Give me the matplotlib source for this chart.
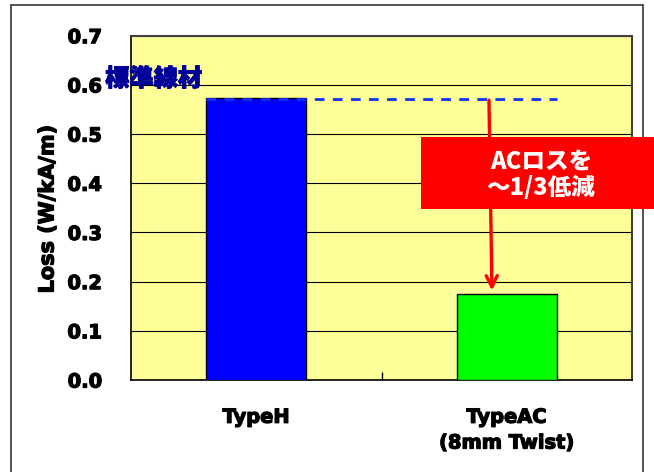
import matplotlib
matplotlib.use("Agg")
import matplotlib.pyplot as plt
import matplotlib.patheffects as pe
from matplotlib.patches import Rectangle
from matplotlib.ticker import FixedLocator

# Data
categories = ["TypeH", "TypeAC\n(8mm Twist)"]
losses = [0.574, 0.174]
bar_colors = ["#0000FF", "#00FF00"]
reference_level = 0.572
reference_label = "標準線材"
reduction_note = "ACロスを\n～1/3低減"
y_ticks = [0.0, 0.1, 0.2, 0.3, 0.4, 0.5, 0.6, 0.7]
y_label = "Loss (W/kA/m)"

CJK = ["Noto Sans CJK JP", "DejaVu Sans"]
heavy = [pe.withStroke(linewidth=0.9, foreground="black")]

W, H = 654, 472
fig = plt.figure(figsize=(W / 100, H / 100), dpi=100)
fig.patch.set_facecolor("white")

# Outer frame around the whole chart
fig.add_artist(Rectangle((11 / W, -0.05), (643 - 11) / W, 1.05 - 5 / H,
                         transform=fig.transFigure, fill=False,
                         edgecolor="#333333", linewidth=1.2, zorder=0))

ax = fig.add_axes([131 / W, 1 - 380 / H, (632 - 131) / W, (380 - 35.7) / H])
ax.set_facecolor("#FFFF99")

x = list(range(len(categories)))
ax.bar(x, losses, width=0.4, color=bar_colors, edgecolor="black",
       linewidth=1.0, zorder=3)

ax.set_xlim(-0.5, 1.5)
ax.set_ylim(0, 0.7)
ax.yaxis.set_major_locator(FixedLocator(y_ticks))
ax.set_yticklabels([f"{v:.1f}" for v in y_ticks], fontsize=14, fontweight="bold")
ax.grid(axis="y", color="black", linewidth=0.8, zorder=1)
ax.set_axisbelow(True)

ax.set_xticks(x)
ax.set_xticklabels(categories, fontsize=14, fontweight="bold")
for lbl in ax.get_xticklabels():
    lbl.set_linespacing(1.45)
    lbl.set_path_effects(heavy)
for lbl in ax.get_yticklabels():
    lbl.set_path_effects(heavy)
ax.xaxis.set_minor_locator(FixedLocator([0.5]))
ax.tick_params(axis="x", which="major", length=0, pad=20)
ax.tick_params(axis="x", which="minor", direction="in", length=6, width=1)
ax.tick_params(axis="y", length=0, pad=21)

for side in ["left", "bottom"]:
    ax.spines[side].set_color("black")
    ax.spines[side].set_linewidth(1.2)
for side in ["top", "right"]:
    ax.spines[side].set_color("#404040")
    ax.spines[side].set_linewidth(1.5)

ax.set_ylabel(y_label, fontsize=15, fontweight="bold")
ax.yaxis.label.set(ha="center", va="center", path_effects=heavy)
ax.yaxis.set_label_coords((47.5 - 131) / 501, (380 - 209) / 344.3)

# Reference level of the standard wire
ax.plot([-0.2, 1.2], [reference_level, reference_level], color="#1030FF",
        linewidth=2.0, dashes=(3.5, 3), zorder=4)
ax.text(-0.41, 0.612, reference_label, color="#000099", fontsize=17.5,
        fontweight="heavy", family=CJK, ha="center", va="center", zorder=5,
        path_effects=[pe.withStroke(linewidth=0.6, foreground="#000099")])

# Reduction arrow from the reference level down to TypeAC
ax.annotate("", xy=(0.941, losses[1] + 0.008), xytext=(0.929, reference_level - 0.003),
            arrowprops=dict(arrowstyle="->,head_length=0.8,head_width=0.4",
                            color="#FF0000", linewidth=2.4, shrinkA=0, shrinkB=0),
            zorder=5)

# Red callout box
fig.add_artist(Rectangle((421 / W, 1 - 209 / H), (W - 421) / W + 0.01, (209 - 137) / H,
                         transform=fig.transFigure, facecolor="#FF0000",
                         edgecolor="none", zorder=10))
fig.text(541 / W, 1 - 175 / H, reduction_note, color="white", fontsize=17,
         fontweight="heavy", family=CJK, ha="center", va="center",
         linespacing=1.1, zorder=11)

fig.savefig("out.png", dpi=100)
